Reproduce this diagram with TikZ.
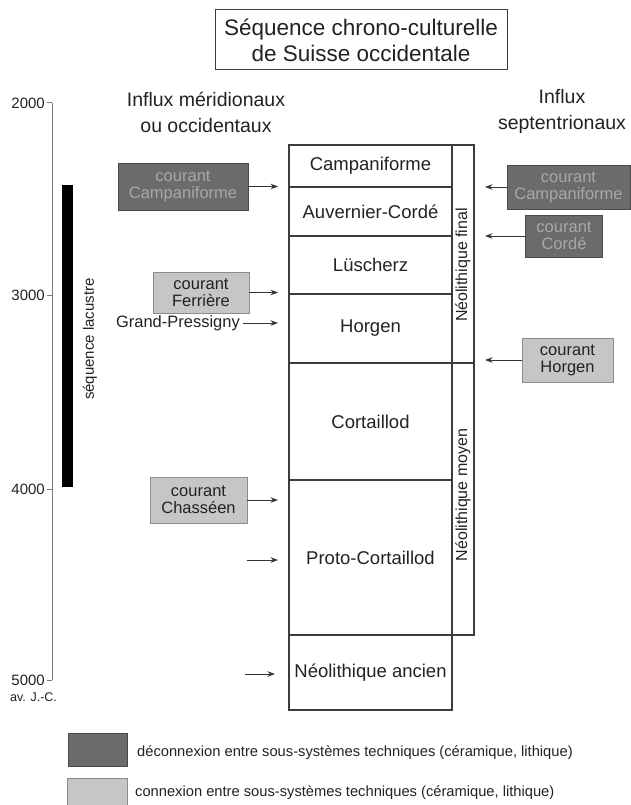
\documentclass[tikz,border=0pt]{standalone}
\usepackage{fontspec}
\setmainfont{Liberation Sans}
\usetikzlibrary{arrows.meta}
\definecolor{darkbox}{HTML}{6B6B6B}
\definecolor{darkborder}{HTML}{4A4A4A}
\definecolor{darktext}{HTML}{A8A8A8}
\definecolor{lightbox}{HTML}{C6C6C6}
\definecolor{lightborder}{HTML}{8C8C8C}
\definecolor{colline}{HTML}{3C3C3C}
\definecolor{arrcol}{HTML}{333333}
\definecolor{axiscol}{HTML}{7A7A7A}
\definecolor{txt}{HTML}{222222}
\tikzset{
  cell/.style={draw=colline, line width=1.3pt, minimum width=163pt, inner sep=0pt, text=txt, font=\fontsize{18.5}{22}\selectfont},
  sidecell/.style={draw=colline, line width=1.3pt, minimum width=22pt, inner sep=0pt},
  sidetext/.style={rotate=90, inner sep=0pt, text=txt, font=\fontsize{16}{18}\selectfont},
  darkc/.style={draw=darkborder, line width=0.8pt, fill=darkbox, text=darktext, align=center, inner sep=0pt, font=\fontsize{16.5}{17}\selectfont},
  lightc/.style={draw=lightborder, line width=0.8pt, fill=lightbox, text=txt, align=center, inner sep=0pt, font=\fontsize{16.5}{17}\selectfont},
  arr/.style={draw=arrcol, line width=0.9pt, -{Stealth[length=7.5pt,width=5.5pt]}},
  axisline/.style={draw=axiscol, line width=1pt},
  axlabel/.style={anchor=east, inner sep=0pt, text=txt, font=\fontsize{15}{17}\selectfont},
  header/.style={align=center, text=txt, font=\fontsize{19.5}{26}\selectfont},
  legtext/.style={anchor=west, inner sep=0pt, text=txt, font=\fontsize{14.7}{16}\selectfont}
}
\begin{document}
\begin{tikzpicture}[x=1pt,y=-1pt]
\useasboundingbox (0,0) rectangle (631,805);

% title
\node[draw=colline, line width=1pt, fill=white, minimum width=292pt, minimum height=60pt, align=center, inner sep=0pt, text=txt, font=\fontsize{22.5}{26}\selectfont] (title) at (361,40) {Séquence chrono-culturelle\\de Suisse occidentale};

% headers
\node[header] (hl) at (206,112) {Influx méridionaux\\ou occidentaux};
\node[header] (hr) at (562,111) {Influx\\septentrionaux};

% time axis
\coordinate (axtop) at (52,103);
\coordinate (axbot) at (52,680);
\draw[axisline] (axtop) -- (axbot);
\foreach \y/\l in {103/2000, 295/3000, 489/4000, 680/5000} {
  \coordinate (tk\l) at (47,\y);
  \coordinate (tr\l) at (52,\y);
  \draw[axisline] (tk\l) -- (tr\l);
  \node[axlabel] (lab\l) at (45,\y) {\l};
}
\node[anchor=west, inner sep=0pt, text=txt, font=\fontsize{12.5}{14}\selectfont] (avjc) at (10,697) {av. J.-C.};

% lacustrine sequence bar
\fill[black] (62,185) rectangle (73,487);
\node[rotate=90, inner sep=0pt, text=txt, font=\fontsize{15}{17}\selectfont] (lac) at (90,339) {séquence lacustre};

% central column
\node[cell, minimum height=42pt] (c1) at (370.5,166) {Campaniforme};
\node[cell, minimum height=49pt] (c2) at (370.5,211.5) {Auvernier-Cordé};
\node[cell, minimum height=58pt] (c3) at (370.5,265) {Lüscherz};
\node[cell, minimum height=69pt] (c4) at (370.5,328.5) {Horgen};
\node[cell, minimum height=117pt] (c5) at (370.5,421.5) {Cortaillod};
\node[cell, minimum height=155pt] (c6) at (370.5,557.5) {Proto-Cortaillod};
\node[cell, minimum height=75pt] (c7) at (370.5,672.5) {Néolithique ancien};

\node[sidecell, minimum height=218pt] (s1) at (463,254) {};
\node[sidecell, minimum height=272pt] (s2) at (463,499) {};
\node[sidetext] (t1) at (463,265) {Néolithique final};
\node[sidetext] (t2) at (463,495) {Néolithique moyen};

% left influences
\node[darkc, minimum width=130pt, minimum height=47pt] (bl1) at (183,186.5) {courant\\Campaniforme};
\node[lightc, minimum width=96pt, minimum height=41pt] (bl2) at (201,292.5) {courant\\Ferrière};
\node[inner sep=0pt, anchor=east, text=txt, font=\fontsize{16.5}{18}\selectfont] (gp) at (240,323) {Grand-Pressigny};
\node[lightc, minimum width=97pt, minimum height=46pt] (bl3) at (198.5,500) {courant\\Chasséen};

\coordinate (pL1) at (278,186.5);
\coordinate (pL2) at (278,292.5);
\coordinate (pL3) at (278,323);
\coordinate (pL4) at (278,500);
\coordinate (sL5) at (247,560);
\coordinate (pL5) at (278,560);
\coordinate (sL6) at (245,674);
\coordinate (pL6) at (275,674);

\draw[arr] (bl1.east) -- (pL1);
\draw[arr] (bl2.east) -- (pL2);
\draw[arr] ([xshift=3pt]gp.east) -- (pL3);
\draw[arr] (bl3.east) -- (pL4);
\draw[arr] (sL5) -- (pL5);
\draw[arr] (sL6) -- (pL6);

% right influences
\node[darkc, minimum width=123pt, minimum height=44pt] (br1) at (568.5,187) {courant\\Campaniforme};
\node[darkc, minimum width=77pt, minimum height=42pt] (br2) at (564,236) {courant\\Cordé};
\node[lightc, minimum width=91pt, minimum height=44pt] (br3) at (567.5,360) {courant\\Horgen};

\coordinate (pR1) at (485,187);
\coordinate (pR2) at (485,236);
\coordinate (pR3) at (485,360);
\draw[arr] (br1.west) -- (pR1);
\draw[arr] (br2.west) -- (pR2);
\draw[arr] (br3.west) -- (pR3);

% legend
\node[fill=darkbox, draw=darkborder, line width=0.8pt, minimum width=59pt, minimum height=33pt, inner sep=0pt] (lg1) at (97.5,749.5) {};
\node[fill=lightbox, draw=lightborder, line width=0.8pt, minimum width=60pt, minimum height=30pt, inner sep=0pt] (lg2) at (97,793) {};
\node[legtext] (lt1) at (137,753) {déconnexion entre sous-systèmes techniques (céramique, lithique)};
\node[legtext] (lt2) at (135,793) {connexion entre sous-systèmes techniques (céramique, lithique)};
\end{tikzpicture}
\end{document}
